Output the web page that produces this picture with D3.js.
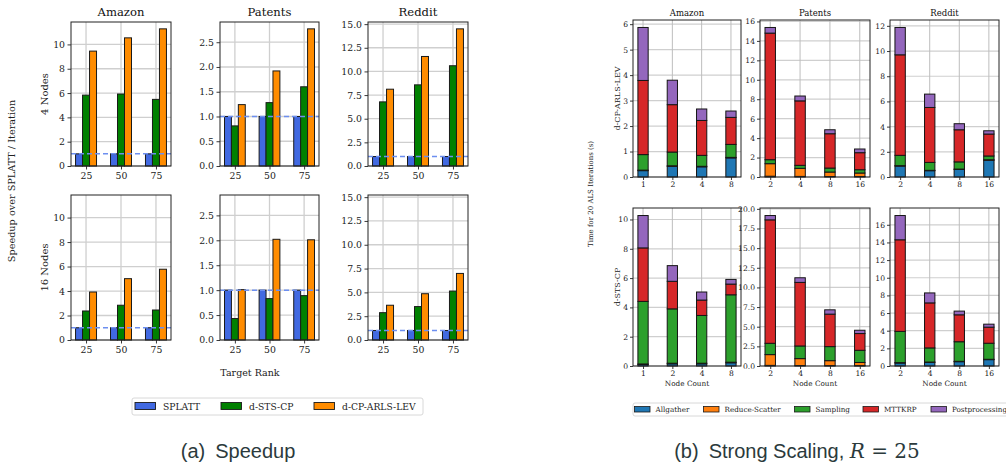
<!DOCTYPE html>
<html><head><meta charset="utf-8">
<script src="https://cdn.jsdelivr.net/npm/d3@7"></script>
<style>body{margin:0;background:#fff} svg{display:block}</style>
</head><body>
<svg id="chart" width="1006" height="463"></svg>
<script>
// ---------- (a) Speedup data ----------
const datasets = ["Amazon", "Patents", "Reddit"];
const targetRanks = [25, 50, 75];
const methods = ["SPLATT", "d-STS-CP", "d-CP-ARLS-LEV"];
const nodeRows = ["4 Nodes", "16 Nodes"];
// rows: Amazon, Patents, Reddit ; cols: rank 25, 50, 75
const splatt4 = [[1, 1, 1], [1, 1, 1], [1, 1, 1]];
const stscp4 = [[5.83, 5.92, 5.48], [0.81, 1.28, 1.60], [6.78, 8.58, 10.6]];
const arls4 = [[9.45, 10.54, 11.28], [1.24, 1.92, 2.77], [8.12, 11.58, 14.5]];
const splatt16 = [[1, 1, 1], [1, 1, 1], [1, 1, 1]];
const stscp16 = [[2.37, 2.84, 2.45], [0.43, 0.83, 0.89], [2.87, 3.51, 5.14]];
const arls16 = [[3.92, 5.01, 5.78], [1.01, 2.02, 2.01], [3.65, 4.86, 6.99]];
const speedupTicks = [[0, 2, 4, 6, 8, 10], [0, 0.5, 1, 1.5, 2, 2.5], [0, 2.5, 5, 7.5, 10, 12.5, 15]];

// ---------- (b) Strong scaling data ----------
const components = ["Allgather", "Reduce-Scatter", "Sampling", "MTTKRP", "Postprocessing"];
const nodesAmazon = ["1", "2", "4", "8"];
const nodesLarge = ["2", "4", "8", "16"];
const algRows = ["d-CP-ARLS-LEV", "d-STS-CP"];
// each matrix: rows = components, cols = node counts
const arlsAmazon = [
  [0.25, 0.42, 0.40, 0.75],
  [0.02, 0.02, 0.02, 0.02],
  [0.61, 0.54, 0.43, 0.51],
  [2.91, 1.86, 1.37, 1.06],
  [2.08, 0.96, 0.45, 0.25]
];
const arlsPatents = [
  [0.08, 0.06, 0.05, 0.05],
  [1.29, 0.83, 0.46, 0.36],
  [0.41, 0.31, 0.41, 0.34],
  [13.02, 6.63, 3.53, 1.75],
  [0.58, 0.50, 0.41, 0.38]
];
const arlsReddit = [
  [0.87, 0.50, 0.60, 1.33],
  [0.03, 0.03, 0.03, 0.04],
  [0.82, 0.63, 0.57, 0.30],
  [7.98, 4.36, 2.55, 1.74],
  [2.17, 1.06, 0.48, 0.26]
];
const stsAmazon = [
  [0.10, 0.15, 0.15, 0.22],
  [0.04, 0.04, 0.04, 0.04],
  [4.27, 3.71, 3.26, 4.60],
  [3.65, 1.88, 1.05, 0.73],
  [2.21, 1.07, 0.55, 0.32]
];
const stsPatents = [
  [0.08, 0.06, 0.05, 0.05],
  [1.37, 0.88, 0.63, 0.40],
  [1.44, 1.61, 1.79, 1.55],
  [15.71, 8.09, 4.13, 2.13],
  [0.55, 0.59, 0.55, 0.42]
];
const stsReddit = [
  [0.34, 0.41, 0.49, 0.72],
  [0.04, 0.04, 0.04, 0.04],
  [3.54, 1.60, 2.22, 1.82],
  [10.38, 5.10, 3.05, 1.82],
  [2.75, 1.13, 0.42, 0.34]
];
const timeTicksARLS = [[0, 1, 2, 3, 4, 5, 6], [0, 2, 4, 6, 8, 10, 12, 14, 16], [0, 2, 4, 6, 8, 10, 12]];
const timeTicksSTS = [[0, 2, 4, 6, 8, 10], [0, 2.5, 5, 7.5, 10, 12.5, 15, 17.5, 20], [0, 2, 4, 6, 8, 10, 12, 14, 16]];

// ---------- styles / layout ----------
const SERIF = "DejaVu Serif";
const methodColors = ["#4169e1", "#008000", "#ff8c00"];
const compColors = ["#1f77b4", "#ff7f0e", "#2ca02c", "#d62728", "#9467bd"];
const gridColor = "#cfcfcf";
const aCols = [[71, 171], [220, 319], [368, 468]];
const aRows = [[22, 166], [195, 340]];
const bCols = [[633, 741], [760, 870], [890, 999]];
const bRows = [[20, 177], [208, 366]];

const svg = d3.select("#chart");

function styleAxis(sel, fs) {
  sel.attr("font-family", null).attr("font-size", null);
  sel.select(".domain").remove();
  sel.selectAll(".tick line").attr("stroke", "#222").attr("stroke-width", 0.9);
  sel.selectAll(".tick text").attr("font-family", SERIF).attr("font-size", fs).attr("fill", "#222");
}

// ---------- (a) panels ----------
datasets.forEach((ds, c) => {
  const all = [...splatt4[c], ...stscp4[c], ...arls4[c], ...splatt16[c], ...stscp16[c], ...arls16[c]];
  const ymax = d3.max(all) * 1.05;
  const fmt = c === 0 ? d3.format("d") : d3.format(".1f");
  [[splatt4[c], stscp4[c], arls4[c]], [splatt16[c], stscp16[c], arls16[c]]].forEach((series, r) => {
    const [x0, x1] = aCols[c], [y0, y1] = aRows[r];
    const g = svg.append("g");
    const x = d3.scaleLinear().domain([14.25, 85.75]).range([x0, x1]);
    const y = d3.scaleLinear().domain([0, ymax]).range([y1, y0]);
    g.selectAll(".hg").data(speedupTicks[c]).join("line")
      .attr("x1", x0).attr("x2", x1).attr("y1", d => y(d)).attr("y2", d => y(d))
      .attr("stroke", gridColor).attr("stroke-width", 1.3);
    g.selectAll(".vg").data(targetRanks).join("line")
      .attr("y1", y0).attr("y2", y1).attr("x1", d => x(d)).attr("x2", d => x(d))
      .attr("stroke", gridColor).attr("stroke-width", 1.3);
    series.forEach((vals, m) => {
      g.append("g").selectAll("rect").data(vals).join("rect")
        .attr("x", (d, i) => x(targetRanks[i] + (m - 1) * 5 - 2.5))
        .attr("width", x(5) - x(0))
        .attr("y", d => y(d)).attr("height", d => y(0) - y(d))
        .attr("fill", methodColors[m]).attr("stroke", "#1a1a1a").attr("stroke-width", 1);
    });
    g.append("line").attr("x1", x0).attr("x2", x1).attr("y1", y(1)).attr("y2", y(1))
      .attr("stroke", "#6d8ff0").attr("stroke-width", 1.5).attr("stroke-dasharray", "5,3");
    g.append("rect").attr("x", x0).attr("y", y0).attr("width", x1 - x0).attr("height", y1 - y0)
      .attr("fill", "none").attr("stroke", "#222").attr("stroke-width", 1);
    g.append("g").attr("transform", `translate(${x0},0)`)
      .call(d3.axisLeft(y).tickValues(speedupTicks[c]).tickFormat(fmt).tickSize(3.5).tickPadding(2.5))
      .call(s => styleAxis(s, 9.3));
    g.append("g").attr("transform", `translate(0,${y1})`)
      .call(d3.axisBottom(x).tickValues(targetRanks).tickFormat(d3.format("d")).tickSize(3.5).tickPadding(2.5))
      .call(s => styleAxis(s, 9.3));
    if (r === 0) {
      svg.append("text").attr("x", (x0 + x1) / 2).attr("y", 16).attr("text-anchor", "middle")
        .attr("font-family", SERIF).attr("font-size", 11.6).attr("fill", "#111").text(ds);
    }
    if (c === 0) {
      svg.append("text").attr("transform", `translate(48,${(y0 + y1) / 2}) rotate(-90)`)
        .attr("text-anchor", "middle").attr("font-family", SERIF).attr("font-size", 10).attr("fill", "#222")
        .text(nodeRows[r]);
    }
  });
});
svg.append("text").attr("transform", "translate(15,181) rotate(-90)").attr("text-anchor", "middle")
  .attr("font-family", SERIF).attr("font-size", 9.7).attr("fill", "#222").text("Speedup over SPLATT / Iteration");
svg.append("text").attr("x", 250).attr("y", 376).attr("text-anchor", "middle")
  .attr("font-family", SERIF).attr("font-size", 9.5).attr("fill", "#222").text("Target Rank");

// legend (a)
const legA = svg.append("g");
legA.append("rect").attr("x", 132).attr("y", 398).attr("width", 291).attr("height", 17).attr("rx", 2)
  .attr("fill", "#fff").attr("stroke", "#d8d8d8").attr("stroke-width", 1);
const legAx = [135, 221, 314];
methods.forEach((m, i) => {
  legA.append("rect").attr("x", legAx[i]).attr("y", 402.5).attr("width", 20.5).attr("height", 7)
    .attr("fill", methodColors[i]).attr("stroke", "#1a1a1a").attr("stroke-width", 0.9);
  legA.append("text").attr("x", legAx[i] + 28).attr("y", 409.5).attr("font-family", SERIF)
    .attr("font-size", 9.2).attr("fill", "#222").text(m);
});

// ---------- (b) panels ----------
const timeMats = [[arlsAmazon, arlsPatents, arlsReddit], [stsAmazon, stsPatents, stsReddit]];
const timeTicks = [timeTicksARLS, timeTicksSTS];
const bTitles = datasets;
timeMats.forEach((row, r) => {
  row.forEach((mat, c) => {
    const nodes = c === 0 ? nodesAmazon : nodesLarge;
    const table = nodes.map((n, i) => {
      const o = { node: n };
      components.forEach((k, j) => o[k] = mat[j][i]);
      return o;
    });
    const stacked = d3.stack().keys(components)(table);
    const ymax = d3.max(stacked[stacked.length - 1], d => d[1]) * 1.05;
    const [x0, x1] = bCols[c], [y0, y1] = bRows[r];
    const g = svg.append("g");
    const x = d3.scaleLinear().domain([-0.3425, 3.3425]).range([x0, x1]);
    const y = d3.scaleLinear().domain([0, ymax]).range([y1, y0]);
    const ticks = timeTicks[r][c];
    g.selectAll(".hg").data(ticks).join("line")
      .attr("x1", x0).attr("x2", x1).attr("y1", d => y(d)).attr("y2", d => y(d))
      .attr("stroke", gridColor).attr("stroke-width", 1.2);
    g.selectAll(".vg").data(d3.range(nodes.length)).join("line")
      .attr("y1", y0).attr("y2", y1).attr("x1", d => x(d)).attr("x2", d => x(d))
      .attr("stroke", "#bdbdbd").attr("stroke-width", 1);
    stacked.forEach((layer, k) => {
      g.append("g").selectAll("rect").data(layer).join("rect")
        .attr("x", (d, i) => x(i - 0.175)).attr("width", x(0.35) - x(0))
        .attr("y", d => y(d[1])).attr("height", d => y(d[0]) - y(d[1]))
        .attr("fill", compColors[k]).attr("stroke", "#151515").attr("stroke-width", 1);
    });
    g.append("rect").attr("x", x0).attr("y", y0).attr("width", x1 - x0).attr("height", y1 - y0)
      .attr("fill", "none").attr("stroke", "#222").attr("stroke-width", 1);
    const fmt = (r === 1 && c === 1) ? d3.format(".1f") : d3.format("d");
    g.append("g").attr("transform", `translate(${x0},0)`)
      .call(d3.axisLeft(y).tickValues(ticks).tickFormat(fmt).tickSize(3).tickPadding(2))
      .call(s => styleAxis(s, 7.6));
    g.append("g").attr("transform", `translate(0,${y1})`)
      .call(d3.axisBottom(x).tickValues(d3.range(nodes.length)).tickFormat(i => nodes[i]).tickSize(3).tickPadding(2))
      .call(s => styleAxis(s, 7.6));
    if (r === 0) {
      svg.append("text").attr("x", (x0 + x1) / 2).attr("y", 16).attr("text-anchor", "middle")
        .attr("font-family", SERIF).attr("font-size", 8.5).attr("fill", "#111").text(bTitles[c]);
    } else {
      svg.append("text").attr("x", (x0 + x1) / 2).attr("y", 386).attr("text-anchor", "middle")
        .attr("font-family", SERIF).attr("font-size", 7.3).attr("fill", "#222").text("Node Count");
    }
    if (c === 0) {
      svg.append("text").attr("transform", `translate(620,${(y0 + y1) / 2}) rotate(-90)`)
        .attr("text-anchor", "middle").attr("font-family", SERIF).attr("font-size", 8).attr("fill", "#222")
        .text(algRows[r]);
    }
  });
});
svg.append("text").attr("transform", "translate(593,194) rotate(-90)").attr("text-anchor", "middle")
  .attr("font-family", SERIF).attr("font-size", 7).attr("fill", "#222").text("Time for 20 ALS Iterations (s)");

// legend (b)
const legB = svg.append("g");
legB.append("rect").attr("x", 633).attr("y", 403).attr("width", 380).attr("height", 13).attr("rx", 2)
  .attr("fill", "#fff").attr("stroke", "#d8d8d8").attr("stroke-width", 1);
const legBx = [634.5, 703.5, 794.5, 863, 931];
components.forEach((k, i) => {
  legB.append("rect").attr("x", legBx[i]).attr("y", 406.5).attr("width", 15.5).attr("height", 5.5)
    .attr("fill", compColors[i]).attr("stroke", "#1a1a1a").attr("stroke-width", 0.8);
  legB.append("text").attr("x", legBx[i] + 21).attr("y", 412).attr("font-family", SERIF)
    .attr("font-size", 7.2).attr("fill", "#222").text(k);
});

// ---------- captions ----------
const CAP = "#2b3a3c";
svg.append("text").attr("x", 238).attr("y", 458).attr("text-anchor", "middle")
  .attr("font-family", "Liberation Sans").attr("font-size", 20).attr("fill", CAP)
  .text("(a)\u2002Speedup");
const capB = svg.append("text").attr("x", 797).attr("y", 458).attr("text-anchor", "middle")
  .attr("font-family", "Liberation Sans").attr("font-size", 20).attr("fill", CAP);
capB.append("tspan").text("(b)\u2002Strong Scaling, ");
capB.append("tspan").attr("font-family", "DejaVu Serif").attr("font-style", "italic").text("R");
capB.append("tspan").attr("font-family", "DejaVu Serif").text(" = 25");
</script>
</body></html>
